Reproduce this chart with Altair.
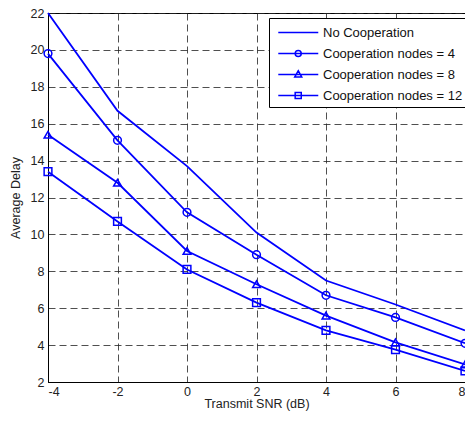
import altair as alt
import pandas as pd

snr = [-4, -2, 0, 2, 4, 6, 8]
no_coop = [22.0, 16.7, 13.7, 10.1, 7.5, 6.2, 4.8]
coop4 = [19.8, 15.1, 11.2, 8.9, 6.7, 5.5, 4.1]
coop8 = [15.4, 12.8, 9.1, 7.3, 5.6, 4.15, 2.95]
coop12 = [13.4, 10.7, 8.1, 6.3, 4.8, 3.75, 2.6]
series_names = ["No Cooperation", "Cooperation nodes = 4",
                "Cooperation nodes = 8", "Cooperation nodes = 12"]
x_ticks = [-4, -2, 0, 2, 4, 6, 8]
y_ticks = [2, 4, 6, 8, 10, 12, 14, 16, 18, 20, 22]

rows = []
for name, vals in zip(series_names, [no_coop, coop4, coop8, coop12]):
    for xv, yv in zip(snr, vals):
        rows.append({"snr": xv, "delay": yv, "series": name})
df = pd.DataFrame(rows)

BLUE = "#0000FF"
FONT = "Liberation Sans"

x_enc = alt.X("snr:Q", scale=alt.Scale(domain=[-4, 8], nice=False, zero=False),
              axis=alt.Axis(values=x_ticks, title="Transmit SNR (dB)",
                            labelExpr="'' + datum.value", labelPadding=3,
                            titlePadding=0))
y_enc = alt.Y("delay:Q", scale=alt.Scale(domain=[2, 22], nice=False, zero=False),
              axis=alt.Axis(values=y_ticks, title="Average Delay",
                            labelPadding=4, titlePadding=8))

base = alt.Chart(df)

lines = base.mark_line(color=BLUE, strokeWidth=1.8).encode(
    x=x_enc, y=y_enc, detail="series:N")

points = base.transform_filter(alt.datum.series != "No Cooperation").mark_point(
    filled=False, color=BLUE, size=60, strokeWidth=1.5, opacity=1
).encode(
    x=x_enc, y=y_enc,
    shape=alt.Shape("series:N",
                    scale=alt.Scale(domain=series_names[1:],
                                    range=["circle", "triangle-up", "square"]),
                    legend=None))

legend_paths = [
    "M-0.55,0H3.66",
    "M-0.55,0H3.66M1.87,0A0.32,0.32 0 1,1 1.23,0A0.32,0.32 0 1,1 1.87,0",
    "M-0.55,0H3.66M1.55,-0.4L1.92,0.27L1.18,0.27Z",
    "M-0.55,0H3.66M1.23,-0.32H1.87V0.32H1.23Z",
]

legend_layer = base.transform_filter("datum.snr > 100").transform_calculate(
    legend_series="datum.series"
).mark_point(filled=False, color=BLUE, strokeWidth=1.5, opacity=1).encode(
    x=x_enc, y=y_enc,
    shape=alt.Shape("legend_series:N",
                    scale=alt.Scale(domain=series_names, range=legend_paths),
                    legend=alt.Legend(title=None, orient="none", legendX=221, legendY=5,
                                      fillColor="white", strokeColor="black",
                                      padding=4, symbolSize=361, symbolStrokeWidth=1.5,
                                      symbolStrokeColor=BLUE, symbolFillColor="transparent",
                                      symbolOpacity=1, labelOffset=29, labelFontSize=13,
                                      labelFont=FONT, labelColor="#111", rowPadding=3,
                                      labelLimit=300)))

chart = alt.layer(lines, points, legend_layer).resolve_scale(
    shape="independent"
).properties(
    width=417, height=369,
    autosize=alt.AutoSizeParams(type="none"),
    padding={"left": 40, "top": 5, "right": 0, "bottom": 30},
).configure_view(
    stroke="black", strokeWidth=1
).configure_axis(
    grid=True, gridColor="#222", gridDash=[7, 4], gridWidth=0.8, gridOpacity=1,
    domainColor="black", domainWidth=1, ticks=False,
    labelFont=FONT, labelFontSize=12.5, labelColor="#222",
    titleFont=FONT, titleFontSize=12.5, titleFontWeight="normal", titleColor="#222"
)

chart.save("out.html", embed_options={"renderer": "svg", "actions": False})
